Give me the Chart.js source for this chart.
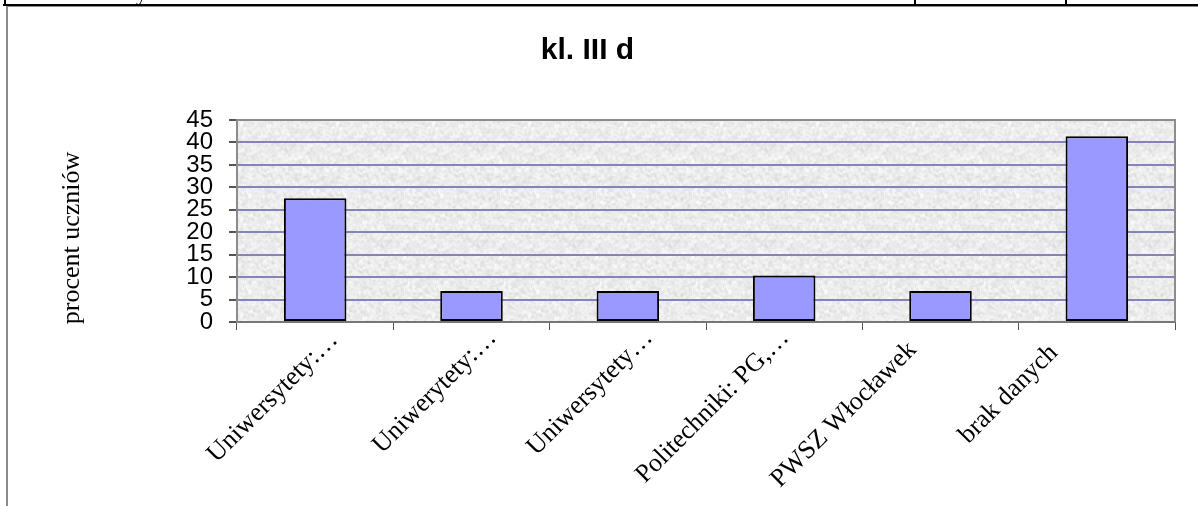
<!DOCTYPE html>
<html lang="pl">
<head>
    <meta charset="UTF-8">
    <title>kl. III d</title>
    <script src="https://cdn.jsdelivr.net/npm/chart.js"></script>
    <style>
        html, body { margin: 0; padding: 0; background: #fff; }
        #wrap { position: relative; width: 1198px; height: 506px; overflow: hidden; }
        #chart { position: absolute; left: 0; top: 0; }
        .ln { position: absolute; pointer-events: none; }
        #glyph { position: absolute; left: 136px; top: 0; width: 14px; height: 5px; overflow: hidden; }
        #glyph span { position: absolute; top: -20px; left: 0; font: 22px "Liberation Serif", serif; }
    </style>
</head>
<body>
<div id="wrap">
    <canvas id="chart" width="1198" height="506"></canvas>
    <!-- table frame around the chart -->
    <div class="ln" style="left:3px;top:4px;width:1195px;height:2px;background:#000"></div>
    <div class="ln" style="left:6px;top:6px;width:1192px;height:1px;background:#8a8a8a"></div>
    <div class="ln" style="left:6px;top:6px;width:2px;height:500px;background:#8a8a8a"></div>
    <div class="ln" style="left:4px;top:0;width:2px;height:6px;background:#000"></div>
    <div class="ln" style="left:914px;top:0;width:2px;height:6px;background:#000"></div>
    <div class="ln" style="left:1065px;top:0;width:2px;height:6px;background:#000"></div>
    <div id="glyph"><span>y</span></div>
</div>

<script>
    // data
    const categories = ['Uniwersytety:…', 'Uniwerytety:…', 'Uniwersytety…', 'Politechniki: PG,…', 'PWSZ Włocławek', 'brak danych'];
    const percents = [27.59, 6.9, 6.9, 10.34, 6.9, 41.38];
    const yTicks = [0, 5, 10, 15, 20, 25, 30, 35, 40, 45];

    // where each rotated category label ends, relative to its tick (px)
    const labelShiftX = [19, 21, 21, 1, -28, -43];
    const labelShiftY = [2, 0, 0, 0, 12, 15];

    // grey "marble" texture for the plot area (deterministic hash, no randomness)
    function makeTexture() {
        const c = document.createElement('canvas');
        c.width = 96; c.height = 96;
        const g = c.getContext('2d');
        const img = g.createImageData(96, 96);
        function h(x, y) {
            let n = (x * 374761393 + y * 668265263) ^ 0x5bd1e995;
            n = (n ^ (n >>> 13)) * 1274126177;
            return ((n ^ (n >>> 16)) >>> 0) / 4294967295;
        }
        for (let y = 0; y < 96; y++) {
            for (let x = 0; x < 96; x++) {
                let s = 0;
                for (let dy = -1; dy <= 1; dy++)
                    for (let dx = -1; dx <= 1; dx++)
                        s += h((x + dx + 96) % 96, (y + dy + 96) % 96);
                s /= 9;
                const v = Math.round(236 - (s - 0.5) * 60);
                const i = (y * 96 + x) * 4;
                img.data[i] = v; img.data[i + 1] = v; img.data[i + 2] = v; img.data[i + 3] = 255;
            }
        }
        g.putImageData(img, 0, 0);
        return c;
    }
    const texture = makeTexture();

    const plotBackground = {
        id: 'plotBackground',
        beforeDraw(chart) {
            const { ctx, chartArea: a } = chart;
            ctx.save();
            ctx.fillStyle = ctx.createPattern(texture, 'repeat');
            ctx.fillRect(a.left, a.top, a.right - a.left, a.bottom - a.top);
            ctx.restore();
        },
        afterDatasetsDraw(chart) {
            // grey frame at the top and right of the plot
            const { ctx, chartArea: a } = chart;
            ctx.save();
            ctx.strokeStyle = '#8c8c8c';
            ctx.lineWidth = 2;
            ctx.beginPath();
            ctx.moveTo(a.left, a.top);
            ctx.lineTo(a.right, a.top);
            ctx.lineTo(a.right, a.bottom);
            ctx.stroke();
            ctx.restore();
        }
    };

    const extraText = {
        id: 'extraText',
        afterDraw(chart) {
            const ctx = chart.ctx;
            ctx.save();
            ctx.fillStyle = '#000';
            ctx.font = '26px "Liberation Serif", "Times New Roman", serif';
            ctx.textAlign = 'center';
            ctx.textBaseline = 'middle';
            ctx.translate(72, 238);
            ctx.rotate(-Math.PI / 2);
            ctx.fillText('procent uczniów', 0, 0);
            ctx.restore();

            // rotated category labels, placed from the x scale
            const xs = chart.scales.x;
            ctx.save();
            ctx.fillStyle = '#000';
            ctx.font = '26px "Liberation Serif", "Times New Roman", serif';
            ctx.textAlign = 'right';
            ctx.textBaseline = 'middle';
            categories.forEach((lab, i) => {
                const px = xs.getPixelForValue(i) + labelShiftX[i];
                const py = xs.top + 12 + labelShiftY[i];
                ctx.save();
                ctx.translate(px, py);
                ctx.rotate(-Math.PI / 4);
                ctx.fillText(lab, 0, 0);
                ctx.restore();
            });
            ctx.restore();
        }
    };

    new Chart(document.getElementById('chart'), {
        type: 'bar',
        data: {
            labels: categories,
            datasets: [{
                data: percents,
                backgroundColor: '#9999ff',
                borderColor: '#000',
                borderWidth: 2,
                borderSkipped: false,
                barPercentage: 0.4,
                categoryPercentage: 1
            }]
        },
        options: {
            responsive: false,
            animation: false,
            events: [],
            layout: { padding: { left: 0, right: 23, top: 0, bottom: 0 } },
            plugins: {
                legend: { display: false },
                tooltip: { enabled: false },
                title: {
                    display: true,
                    text: 'kl. III d',
                    color: '#000',
                    font: { family: '"Liberation Sans", Arial, sans-serif', size: 30, weight: 'bold', lineHeight: 1.2 },
                    padding: { top: 33, bottom: 51 }
                }
            },
            scales: {
                x: {
                    grid: { display: true, drawOnChartArea: false, offset: true, tickLength: 8, color: '#555', lineWidth: 1 },
                    border: { display: true, color: '#777', width: 2 },
                    ticks: { display: false },
                    afterFit(scale) { scale.height = 184; }
                },
                y: {
                    min: 0,
                    max: 45,
                    afterBuildTicks(scale) { scale.ticks = yTicks.map(v => ({ value: v })); },
                    grid: {
                        tickLength: 8,
                        lineWidth: 2,
                        color: ctx => (ctx.tick && (ctx.tick.value === 0 || ctx.tick.value === 45)) ? 'rgba(0,0,0,0)' : '#8484b8',
                        tickColor: '#555'
                    },
                    border: { display: true, color: '#8c8c8c', width: 2 },
                    ticks: {
                        color: '#000',
                        autoSkip: false,
                        padding: 16,
                        font: { family: '"Liberation Sans", Arial, sans-serif', size: 24, lineHeight: 0.9 }
                    },
                    afterFit(scale) { scale.width = 237; }
                }
            }
        },
        plugins: [plotBackground, extraText]
    });
</script>
</body>
</html>
